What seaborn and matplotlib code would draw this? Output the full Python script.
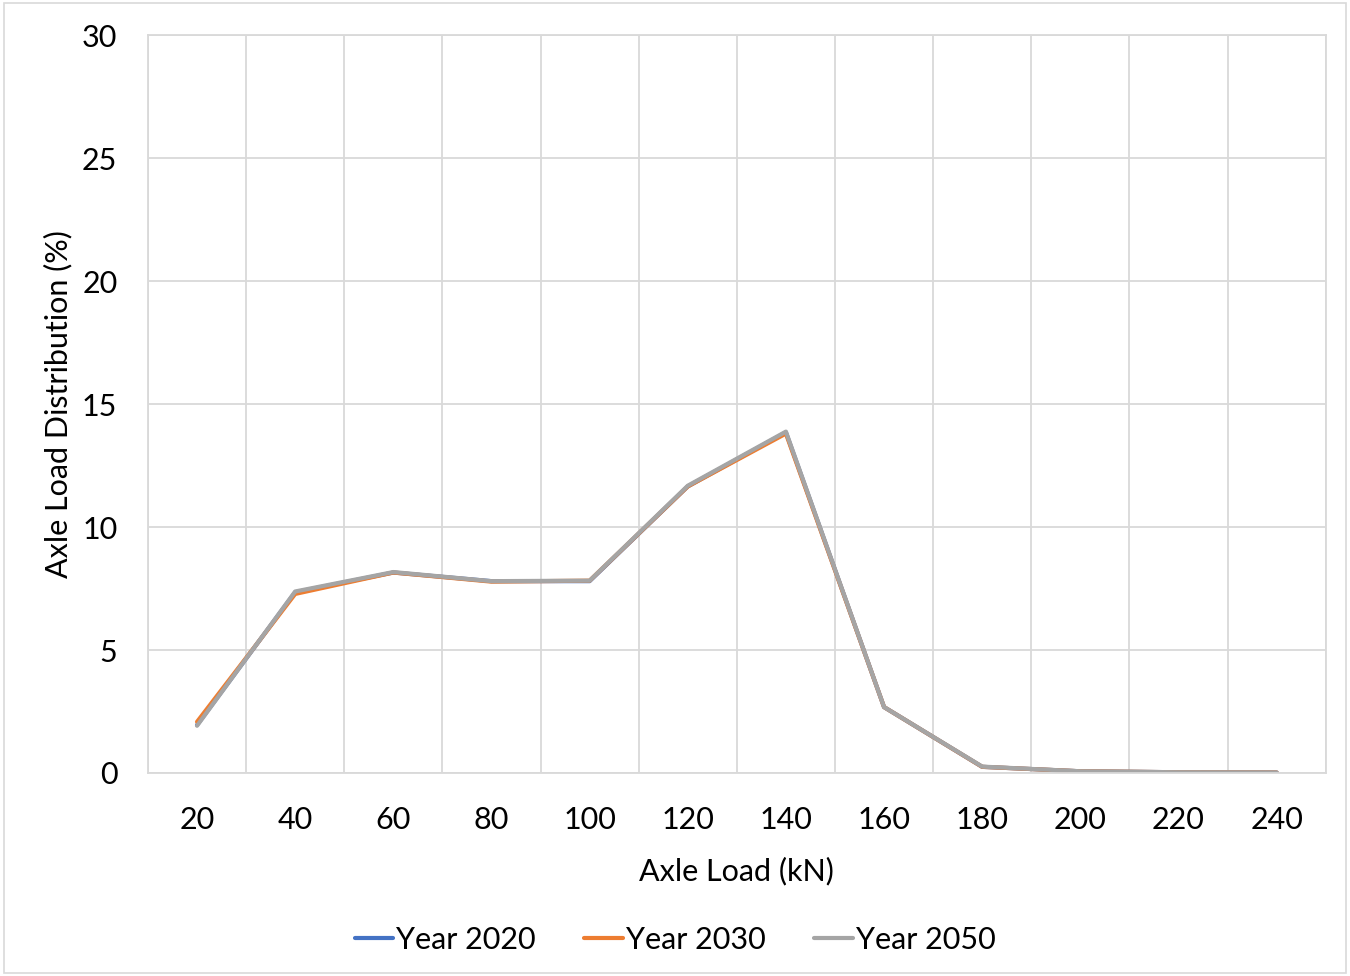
import matplotlib
matplotlib.use("Agg")
import matplotlib.pyplot as plt
import seaborn as sns
import pandas as pd
import numpy as np
from matplotlib.lines import Line2D

categories = ["20", "40", "60", "80", "100", "120", "140", "160", "180", "200", "220", "240"]
year_2020 = [1.95, 7.35, 8.15, 7.8, 7.8, 11.65, 13.85, 2.68, 0.25, 0.07, 0.03, 0.02]
year_2030 = [2.08, 7.28, 8.15, 7.78, 7.82, 11.65, 13.8, 2.68, 0.25, 0.07, 0.03, 0.02]
year_2050 = [1.92, 7.38, 8.17, 7.8, 7.82, 11.68, 13.88, 2.68, 0.26, 0.07, 0.03, 0.02]
series_names = ["Year 2020", "Year 2030", "Year 2050"]
colors = ["#4472C4", "#ED7D31", "#A5A5A5"]

rows = []
for name, vals in zip(series_names, [year_2020, year_2030, year_2050]):
    for i, (c, v) in enumerate(zip(categories, vals)):
        rows.append({"pos": i, "cat": c, "value": v, "series": name})
df = pd.DataFrame(rows)

sns.set_theme(style="white")
plt.rcParams['font.family'] = ['Lato', 'DejaVu Sans']

fig = plt.figure(figsize=(13.5, 9.76), dpi=100)
ax = fig.add_axes([0.1096, 0.208, 0.8724, 0.756])

sns.lineplot(data=df, x="pos", y="value", hue="series", palette=colors,
             linewidth=3.0, ax=ax, sort=False, legend=False)

ax.set_xlim(-0.5, len(categories) - 0.5)
ax.set_ylim(0, 30)
ax.set_xticks(range(len(categories)))
ax.set_xticklabels(categories)
ax.set_xticks(np.arange(-0.5, len(categories), 1.0), minor=True)
ax.set_yticks([0, 5, 10, 15, 20, 25, 30])
ax.grid(False)
ax.grid(True, which="minor", axis="x", color="#D9D9D9", linewidth=1.3)
ax.grid(True, which="major", axis="y", color="#D9D9D9", linewidth=1.3)
ax.set_axisbelow(True)
ax.tick_params(axis="both", which="both", length=0, labelsize=22, colors="black")
ax.tick_params(axis="x", pad=24)
ax.tick_params(axis="y", pad=22)
for s in ax.spines.values():
    s.set_color("#D9D9D9")
    s.set_linewidth(1.3)

ax.set_xlabel("Axle Load (kN)", fontsize=22, labelpad=16, color="black")
ax.set_ylabel("Axle Load Distribution (%)", fontsize=22, labelpad=7, color="black")

handles = [Line2D([0], [0], color=c, linewidth=3.0) for c in colors]
fig.legend(handles, series_names, loc="center", bbox_to_anchor=(0.5, 0.037), ncol=3,
           frameon=False, fontsize=22, handlelength=1.25, handletextpad=0.1,
           columnspacing=1.6, labelcolor="black")

border = plt.Rectangle((0.003, 0.003), 0.994, 0.994, transform=fig.transFigure,
                       fill=False, edgecolor="#D9D9D9", linewidth=1.2)
fig.patches.append(border)

fig.savefig("out.png", dpi=100)
